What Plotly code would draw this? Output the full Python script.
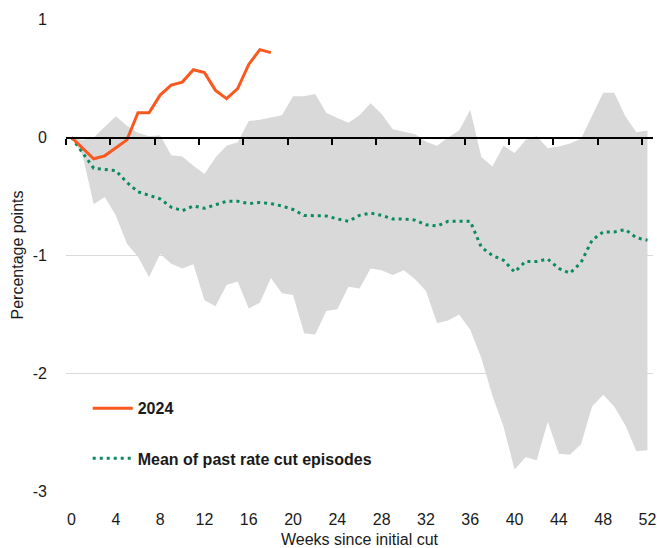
import plotly.graph_objects as go

# ---- data ----
weeks = list(range(53))
band_upper = [0, -0.02, 0.0, 0.09, 0.18, 0.10, 0.04, 0.01, 0.02, -0.15,
              -0.16, -0.24, -0.31, -0.17, -0.07, -0.04, 0.14, 0.15, 0.17, 0.19,
              0.35, 0.35, 0.37, 0.21, 0.165, 0.125, 0.19, 0.29, 0.20, 0.07,
              0.05, 0.03, -0.035, -0.07, 0.0, 0.06, 0.235, -0.165, -0.245, -0.07,
              -0.13, -0.02, 0.01, -0.09, -0.075, -0.05, -0.01, 0.18, 0.38, 0.38,
              0.18, 0.045, 0.06]
band_lower = [0, -0.15, -0.565, -0.505, -0.66, -0.90, -1.01, -1.185, -0.985, -1.07,
              -1.11, -1.075, -1.38, -1.43, -1.25, -1.22, -1.45, -1.40, -1.19, -1.32,
              -1.335, -1.66, -1.67, -1.47, -1.455, -1.265, -1.28, -1.11, -1.125, -1.165,
              -1.125, -1.20, -1.30, -1.575, -1.55, -1.50, -1.63, -1.87, -2.19, -2.45,
              -2.815, -2.71, -2.735, -2.41, -2.68, -2.69, -2.60, -2.28, -2.18, -2.28,
              -2.44, -2.66, -2.65]
mean_past = [0, -0.13, -0.26, -0.27, -0.28, -0.38, -0.46, -0.49, -0.52, -0.59,
             -0.62, -0.58, -0.60, -0.57, -0.54, -0.54, -0.56, -0.55, -0.56, -0.58,
             -0.61, -0.66, -0.665, -0.665, -0.69, -0.71, -0.66, -0.64, -0.66, -0.69,
             -0.69, -0.70, -0.74, -0.75, -0.71, -0.71, -0.71, -0.93, -1.0, -1.04,
             -1.14, -1.05, -1.05, -1.03, -1.11, -1.15, -1.06, -0.87, -0.80, -0.80,
             -0.78, -0.85, -0.87]
weeks_2024 = list(range(19))
values_2024 = [0, -0.09, -0.18, -0.155, -0.085, -0.02, 0.21, 0.21, 0.36, 0.445,
               0.47, 0.575, 0.55, 0.40, 0.33, 0.415, 0.62, 0.745, 0.72]

x_ticks = list(range(0, 53, 4))
y_ticks = [1, 0, -1, -2, -3]
y_tick_text = ["1", "0", "-1", "-2", "-3"]
x_range = [-0.5, 52.5]
y_range = [-3.005, 1.005]

ORANGE = "#F9591F"
GREEN = "#0B8A5E"
BAND = "#D9D9D9"
TEXT = "#1a1a1a"
FONT = "Liberation Sans, Arial, sans-serif"

fig = go.Figure()
fig.add_trace(go.Scatter(x=weeks, y=band_lower, mode="lines", line=dict(width=0),
                         showlegend=False, hoverinfo="skip"))
fig.add_trace(go.Scatter(x=weeks, y=band_upper, mode="lines", line=dict(width=0),
                         fill="tonexty", fillcolor=BAND, showlegend=False, hoverinfo="skip"))
fig.add_trace(go.Scatter(x=weeks, y=mean_past, mode="lines",
                         name="<b>Mean of past rate cut episodes</b>",
                         line=dict(color=GREEN, width=3, dash="3px,4px"), legend="legend2"))
fig.add_trace(go.Scatter(x=weeks_2024, y=values_2024, mode="lines", name="<b>2024</b>",
                         line=dict(color=ORANGE, width=3), legend="legend"))
# invisible trace that activates the zero-line axis
fig.add_trace(go.Scatter(x=[None], y=[None], xaxis="x2", showlegend=False, hoverinfo="skip"))

zero_pos = (0 - y_range[0]) / (y_range[1] - y_range[0])

fig.update_layout(
    width=657, height=548,
    margin=dict(l=66, r=4, t=19, b=56),
    paper_bgcolor="white", plot_bgcolor="white",
    font=dict(family=FONT, size=16, color=TEXT),
    xaxis=dict(range=x_range, tickmode="array", tickvals=x_ticks,
               ticktext=[str(t) for t in x_ticks], showgrid=False, zeroline=False,
               showline=False, ticks="", ticklabelstandoff=16, automargin=False,
               title=dict(text="Weeks since initial cut", standoff=6,
                          font=dict(size=16, color=TEXT))),
    xaxis2=dict(range=x_range, overlaying="x", anchor="free", position=zero_pos,
                side="bottom", showline=True, linecolor="black", linewidth=2,
                ticks="outside", ticklen=6, tickwidth=2, tickcolor="black",
                tickmode="array", tickvals=[t - 0.5 for t in x_ticks],
                showticklabels=False, showgrid=False, zeroline=False,
                layer="above traces", automargin=False),
    yaxis=dict(range=y_range, tickmode="array", tickvals=y_ticks, ticktext=y_tick_text,
               showgrid=True, gridcolor="#D9D9D9", gridwidth=1, zeroline=False,
               showline=False, ticks="", ticklabelstandoff=18, automargin=False),
    legend=dict(x=0.037, y=0.177, xanchor="left", yanchor="middle",
                bgcolor="rgba(0,0,0,0)", font=dict(size=16, color=TEXT, family=FONT),
                itemwidth=40),
    legend2=dict(x=0.037, y=0.071, xanchor="left", yanchor="middle",
                 bgcolor="rgba(0,0,0,0)", font=dict(size=16, color=TEXT, family=FONT),
                 itemwidth=40),
    annotations=[dict(text="Percentage points", xref="paper", yref="paper",
                      x=0, y=0.5, xanchor="center", yanchor="middle", xshift=-49,
                      textangle=-90, showarrow=False,
                      font=dict(size=16, color=TEXT, family=FONT))],
)

fig.write_html("out.html", config={"displayModeBar": False},
               post_script="document.body.style.margin='0';")
